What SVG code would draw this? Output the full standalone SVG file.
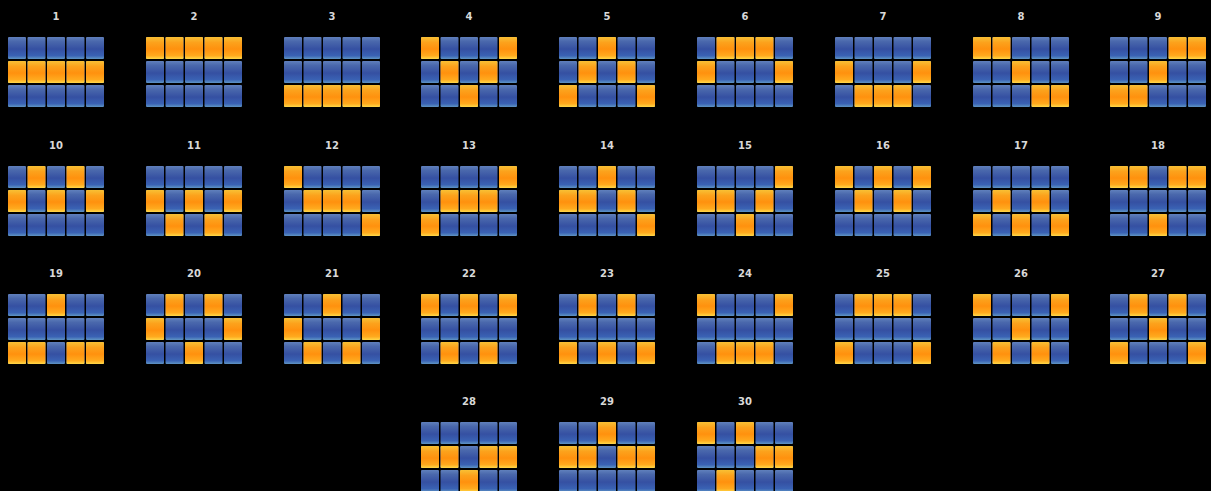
<svg xmlns="http://www.w3.org/2000/svg" xmlns:xlink="http://www.w3.org/1999/xlink" width="1211" height="491" viewBox="0 0 1211 491">
<style>
text{font-family:"DejaVu Sans","Liberation Sans",sans-serif;font-size:10px;font-weight:bold;fill:#d8d8d8;text-anchor:middle}
.b{fill:url(#gb)}
.o{fill:url(#go)}
</style>
<defs>
<linearGradient id="gb" x1="0" y1="0" x2="0" y2="1">
<stop offset="0" stop-color="#6080bc"/>
<stop offset="0.2" stop-color="#4a68ac"/>
<stop offset="0.55" stop-color="#3550a2"/>
<stop offset="0.85" stop-color="#3a62b4"/>
<stop offset="1" stop-color="#5f95c4"/>
</linearGradient>
<linearGradient id="go" x1="0" y1="0" x2="0" y2="1">
<stop offset="0" stop-color="#f8c035"/>
<stop offset="0.25" stop-color="#fca21c"/>
<stop offset="0.55" stop-color="#ff910e"/>
<stop offset="0.85" stop-color="#ffaa1e"/>
<stop offset="1" stop-color="#ffd848"/>
</linearGradient>
<rect id="bc" class="b" width="18" height="22" rx="1"/>
<rect id="oc" class="o" width="18" height="22" rx="1"/>
<g id="base">
<use href="#bc" x="0" y="0"/><use href="#bc" x="19.5" y="0"/><use href="#bc" x="39" y="0"/><use href="#bc" x="58.5" y="0"/><use href="#bc" x="78" y="0"/>
<use href="#bc" x="0" y="24"/><use href="#bc" x="19.5" y="24"/><use href="#bc" x="39" y="24"/><use href="#bc" x="58.5" y="24"/><use href="#bc" x="78" y="24"/>
<use href="#bc" x="0" y="48"/><use href="#bc" x="19.5" y="48"/><use href="#bc" x="39" y="48"/><use href="#bc" x="58.5" y="48"/><use href="#bc" x="78" y="48"/>
</g>
</defs>
<rect width="1211" height="491" fill="#000"/>

<g id="line-1" transform="translate(8,37)"><text x="48" y="-17">1</text><use href="#base"/><use href="#oc" x="0" y="24"/><use href="#oc" x="19.5" y="24"/><use href="#oc" x="39" y="24"/><use href="#oc" x="58.5" y="24"/><use href="#oc" x="78" y="24"/></g>
<g id="line-2" transform="translate(146,37)"><text x="48" y="-17">2</text><use href="#base"/><use href="#oc" x="0" y="0"/><use href="#oc" x="19.5" y="0"/><use href="#oc" x="39" y="0"/><use href="#oc" x="58.5" y="0"/><use href="#oc" x="78" y="0"/></g>
<g id="line-3" transform="translate(284,37)"><text x="48" y="-17">3</text><use href="#base"/><use href="#oc" x="0" y="48"/><use href="#oc" x="19.5" y="48"/><use href="#oc" x="39" y="48"/><use href="#oc" x="58.5" y="48"/><use href="#oc" x="78" y="48"/></g>
<g id="line-4" transform="translate(421,37)"><text x="48" y="-17">4</text><use href="#base"/><use href="#oc" x="0" y="0"/><use href="#oc" x="19.5" y="24"/><use href="#oc" x="39" y="48"/><use href="#oc" x="58.5" y="24"/><use href="#oc" x="78" y="0"/></g>
<g id="line-5" transform="translate(559,37)"><text x="48" y="-17">5</text><use href="#base"/><use href="#oc" x="0" y="48"/><use href="#oc" x="19.5" y="24"/><use href="#oc" x="39" y="0"/><use href="#oc" x="58.5" y="24"/><use href="#oc" x="78" y="48"/></g>
<g id="line-6" transform="translate(697,37)"><text x="48" y="-17">6</text><use href="#base"/><use href="#oc" x="0" y="24"/><use href="#oc" x="19.5" y="0"/><use href="#oc" x="39" y="0"/><use href="#oc" x="58.5" y="0"/><use href="#oc" x="78" y="24"/></g>
<g id="line-7" transform="translate(835,37)"><text x="48" y="-17">7</text><use href="#base"/><use href="#oc" x="0" y="24"/><use href="#oc" x="19.5" y="48"/><use href="#oc" x="39" y="48"/><use href="#oc" x="58.5" y="48"/><use href="#oc" x="78" y="24"/></g>
<g id="line-8" transform="translate(973,37)"><text x="48" y="-17">8</text><use href="#base"/><use href="#oc" x="0" y="0"/><use href="#oc" x="19.5" y="0"/><use href="#oc" x="39" y="24"/><use href="#oc" x="58.5" y="48"/><use href="#oc" x="78" y="48"/></g>
<g id="line-9" transform="translate(1110,37)"><text x="48" y="-17">9</text><use href="#base"/><use href="#oc" x="0" y="48"/><use href="#oc" x="19.5" y="48"/><use href="#oc" x="39" y="24"/><use href="#oc" x="58.5" y="0"/><use href="#oc" x="78" y="0"/></g>

<g id="line-10" transform="translate(8,166)"><text x="48" y="-17">10</text><use href="#base"/><use href="#oc" x="0" y="24"/><use href="#oc" x="19.5" y="0"/><use href="#oc" x="39" y="24"/><use href="#oc" x="58.5" y="0"/><use href="#oc" x="78" y="24"/></g>
<g id="line-11" transform="translate(146,166)"><text x="48" y="-17">11</text><use href="#base"/><use href="#oc" x="0" y="24"/><use href="#oc" x="19.5" y="48"/><use href="#oc" x="39" y="24"/><use href="#oc" x="58.5" y="48"/><use href="#oc" x="78" y="24"/></g>
<g id="line-12" transform="translate(284,166)"><text x="48" y="-17">12</text><use href="#base"/><use href="#oc" x="0" y="0"/><use href="#oc" x="19.5" y="24"/><use href="#oc" x="39" y="24"/><use href="#oc" x="58.5" y="24"/><use href="#oc" x="78" y="48"/></g>
<g id="line-13" transform="translate(421,166)"><text x="48" y="-17">13</text><use href="#base"/><use href="#oc" x="0" y="48"/><use href="#oc" x="19.5" y="24"/><use href="#oc" x="39" y="24"/><use href="#oc" x="58.5" y="24"/><use href="#oc" x="78" y="0"/></g>
<g id="line-14" transform="translate(559,166)"><text x="48" y="-17">14</text><use href="#base"/><use href="#oc" x="0" y="24"/><use href="#oc" x="19.5" y="24"/><use href="#oc" x="39" y="0"/><use href="#oc" x="58.5" y="24"/><use href="#oc" x="78" y="48"/></g>
<g id="line-15" transform="translate(697,166)"><text x="48" y="-17">15</text><use href="#base"/><use href="#oc" x="0" y="24"/><use href="#oc" x="19.5" y="24"/><use href="#oc" x="39" y="48"/><use href="#oc" x="58.5" y="24"/><use href="#oc" x="78" y="0"/></g>
<g id="line-16" transform="translate(835,166)"><text x="48" y="-17">16</text><use href="#base"/><use href="#oc" x="0" y="0"/><use href="#oc" x="19.5" y="24"/><use href="#oc" x="39" y="0"/><use href="#oc" x="58.5" y="24"/><use href="#oc" x="78" y="0"/></g>
<g id="line-17" transform="translate(973,166)"><text x="48" y="-17">17</text><use href="#base"/><use href="#oc" x="0" y="48"/><use href="#oc" x="19.5" y="24"/><use href="#oc" x="39" y="48"/><use href="#oc" x="58.5" y="24"/><use href="#oc" x="78" y="48"/></g>
<g id="line-18" transform="translate(1110,166)"><text x="48" y="-17">18</text><use href="#base"/><use href="#oc" x="0" y="0"/><use href="#oc" x="19.5" y="0"/><use href="#oc" x="39" y="48"/><use href="#oc" x="58.5" y="0"/><use href="#oc" x="78" y="0"/></g>

<g id="line-19" transform="translate(8,294)"><text x="48" y="-17">19</text><use href="#base"/><use href="#oc" x="0" y="48"/><use href="#oc" x="19.5" y="48"/><use href="#oc" x="39" y="0"/><use href="#oc" x="58.5" y="48"/><use href="#oc" x="78" y="48"/></g>
<g id="line-20" transform="translate(146,294)"><text x="48" y="-17">20</text><use href="#base"/><use href="#oc" x="0" y="24"/><use href="#oc" x="19.5" y="0"/><use href="#oc" x="39" y="48"/><use href="#oc" x="58.5" y="0"/><use href="#oc" x="78" y="24"/></g>
<g id="line-21" transform="translate(284,294)"><text x="48" y="-17">21</text><use href="#base"/><use href="#oc" x="0" y="24"/><use href="#oc" x="19.5" y="48"/><use href="#oc" x="39" y="0"/><use href="#oc" x="58.5" y="48"/><use href="#oc" x="78" y="24"/></g>
<g id="line-22" transform="translate(421,294)"><text x="48" y="-17">22</text><use href="#base"/><use href="#oc" x="0" y="0"/><use href="#oc" x="19.5" y="48"/><use href="#oc" x="39" y="0"/><use href="#oc" x="58.5" y="48"/><use href="#oc" x="78" y="0"/></g>
<g id="line-23" transform="translate(559,294)"><text x="48" y="-17">23</text><use href="#base"/><use href="#oc" x="0" y="48"/><use href="#oc" x="19.5" y="0"/><use href="#oc" x="39" y="48"/><use href="#oc" x="58.5" y="0"/><use href="#oc" x="78" y="48"/></g>
<g id="line-24" transform="translate(697,294)"><text x="48" y="-17">24</text><use href="#base"/><use href="#oc" x="0" y="0"/><use href="#oc" x="19.5" y="48"/><use href="#oc" x="39" y="48"/><use href="#oc" x="58.5" y="48"/><use href="#oc" x="78" y="0"/></g>
<g id="line-25" transform="translate(835,294)"><text x="48" y="-17">25</text><use href="#base"/><use href="#oc" x="0" y="48"/><use href="#oc" x="19.5" y="0"/><use href="#oc" x="39" y="0"/><use href="#oc" x="58.5" y="0"/><use href="#oc" x="78" y="48"/></g>
<g id="line-26" transform="translate(973,294)"><text x="48" y="-17">26</text><use href="#base"/><use href="#oc" x="0" y="0"/><use href="#oc" x="19.5" y="48"/><use href="#oc" x="39" y="24"/><use href="#oc" x="58.5" y="48"/><use href="#oc" x="78" y="0"/></g>
<g id="line-27" transform="translate(1110,294)"><text x="48" y="-17">27</text><use href="#base"/><use href="#oc" x="0" y="48"/><use href="#oc" x="19.5" y="0"/><use href="#oc" x="39" y="24"/><use href="#oc" x="58.5" y="0"/><use href="#oc" x="78" y="48"/></g>

<g id="line-28" transform="translate(421,422)"><text x="48" y="-17">28</text><use href="#base"/><use href="#oc" x="0" y="24"/><use href="#oc" x="19.5" y="24"/><use href="#oc" x="39" y="48"/><use href="#oc" x="58.5" y="24"/><use href="#oc" x="78" y="24"/></g>
<g id="line-29" transform="translate(559,422)"><text x="48" y="-17">29</text><use href="#base"/><use href="#oc" x="0" y="24"/><use href="#oc" x="19.5" y="24"/><use href="#oc" x="39" y="0"/><use href="#oc" x="58.5" y="24"/><use href="#oc" x="78" y="24"/></g>
<g id="line-30" transform="translate(697,422)"><text x="48" y="-17">30</text><use href="#base"/><use href="#oc" x="0" y="0"/><use href="#oc" x="19.5" y="48"/><use href="#oc" x="39" y="0"/><use href="#oc" x="58.5" y="24"/><use href="#oc" x="78" y="24"/></g>
</svg>
